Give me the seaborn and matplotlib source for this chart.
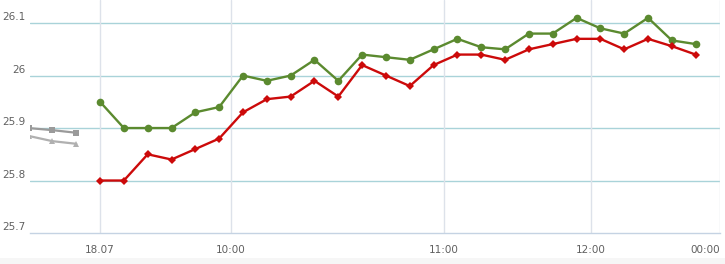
import matplotlib
matplotlib.use("Agg")
import matplotlib.pyplot as plt
import matplotlib.transforms as mtransforms
import seaborn as sns
import pandas as pd

# ---- data ----
green_vals = [25.95, 25.90, 25.90, 25.90, 25.93, 25.94, 26.00, 25.99, 26.00, 26.03,
              25.99, 26.04, 26.035, 26.03, 26.05, 26.07, 26.054, 26.05, 26.08, 26.08,
              26.11, 26.09, 26.08, 26.11, 26.067, 26.06]
red_vals = [25.80, 25.80, 25.85, 25.84, 25.86, 25.88, 25.93, 25.955, 25.96, 25.99,
            25.96, 26.02, 26.00, 25.98, 26.02, 26.04, 26.04, 26.03, 26.05, 26.06,
            26.07, 26.07, 26.05, 26.07, 26.056, 26.04]
gray_sq_vals = [25.90, 25.896, 25.891]
gray_tri_vals = [25.885, 25.875, 25.87]
main_idx = list(range(len(green_vals)))
prev_idx = [-3, -2, -1]

x_tick_pos = [0, 5.49, 14.43, 20.6, 26.0]
x_tick_labels = ["18.07", "10:00", "11:00", "12:00", "00:00"]
y_ticks = [25.7, 25.8, 25.9, 26.0, 26.1]
y_tick_labels = ["25.7", "25.8", "25.9", "26", "26.1"]

# ---- figure ----
sns.set_theme(style="white")
plt.rcParams["font.family"] = ["DejaVu Sans"]
fig = plt.figure(figsize=(7.25, 2.64), dpi=100)
fig.patch.set_facecolor("white")
ax = fig.add_axes([30 / 725, 1 - 233 / 264, 690 / 725, 233 / 264])
ax.set_facecolor("white")

# bottom grey strip
fig.patches.append(plt.Rectangle((0, 0), 1, 6 / 264, transform=fig.transFigure,
                                 facecolor="#f6f6f6", edgecolor="none", zorder=0))

df_main = pd.DataFrame({"x": main_idx, "green": green_vals, "red": red_vals})
df_prev = pd.DataFrame({"x": prev_idx, "sq": gray_sq_vals, "tri": gray_tri_vals})

sns.lineplot(data=df_prev, x="x", y="sq", ax=ax, color="#9a9a9a", marker="s",
             markersize=5, markeredgewidth=0, linewidth=1.6, zorder=3)
sns.lineplot(data=df_prev, x="x", y="tri", ax=ax, color="#b0b0b0", marker="^",
             markersize=5, markeredgewidth=0, linewidth=1.6, zorder=3)
sns.lineplot(data=df_main, x="x", y="green", ax=ax, color="#5b8a2f", marker="o",
             markersize=5.5, markeredgewidth=0, linewidth=1.7, zorder=4)
sns.lineplot(data=df_main, x="x", y="red", ax=ax, color="#cc0a0a", marker="D",
             markersize=3.8, markeredgewidth=0, linewidth=1.7, zorder=5)

ax.set_xlim(-2.94, 26.02)
ax.set_ylim(25.7, 26.144)

ax.set_yticks(y_ticks)
ax.set_yticklabels(y_tick_labels)
ax.set_xticks(x_tick_pos)
ax.set_xticklabels(x_tick_labels)
ax.set_xlabel("")
ax.set_ylabel("")

ax.grid(False)
for y in y_ticks[1:]:
    ax.axhline(y, color="#a9d3d9", linewidth=1.0, zorder=1)
for xp in x_tick_pos:
    ax.axvline(xp, color="#dde2ea", linewidth=1.0, zorder=1)

for s in ["top", "left", "right"]:
    ax.spines[s].set_visible(False)
ax.spines["bottom"].set_color("#c5d3e3")
ax.spines["bottom"].set_linewidth(1.0)

ax.tick_params(axis="y", length=0, pad=3.5, labelsize=7.5, labelcolor="#606060")
ax.tick_params(axis="x", length=7, width=1, color="#c5d3e3", pad=1.5,
               labelsize=7.5, labelcolor="#606060")
off = mtransforms.ScaledTranslation(0, 1 / 100, fig.dpi_scale_trans)
for lab in ax.get_yticklabels():
    lab.set_verticalalignment("bottom")
    lab.set_transform(lab.get_transform() + off)
xlabs = ax.get_xticklabels()
xlabs[-1].set_horizontalalignment("right")

fig.savefig("out.png", dpi=100)
